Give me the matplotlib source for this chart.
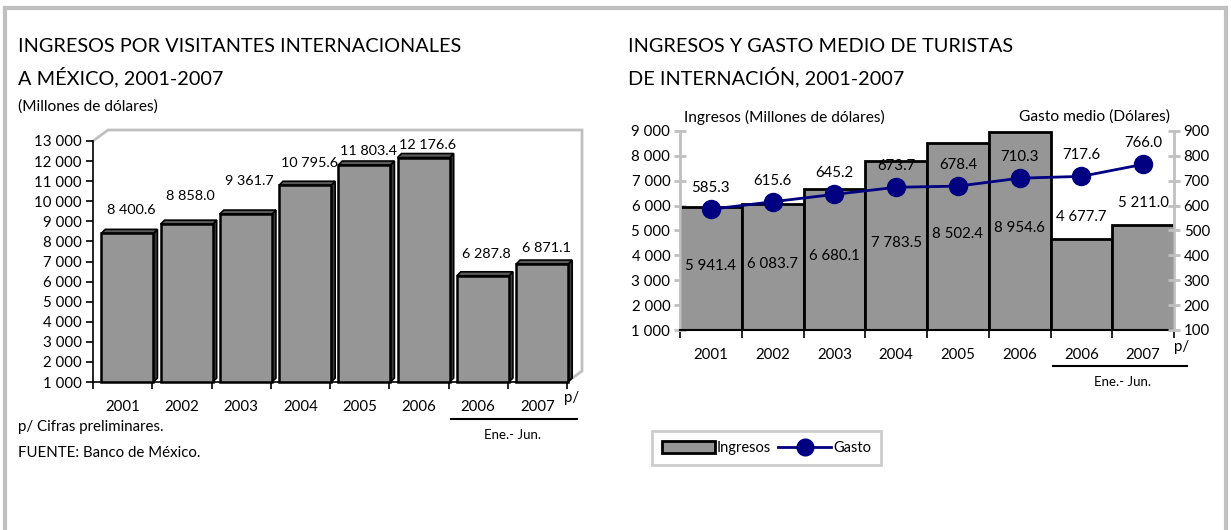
import matplotlib
matplotlib.use("Agg")
import matplotlib.pyplot as plt
from matplotlib.patches import Polygon, Patch
from matplotlib.lines import Line2D

plt.rcParams['font.family'] = ['Lato', 'DejaVu Sans']

# ---------------- data ----------------
years = ["2001", "2002", "2003", "2004", "2005", "2006", "2006", "2007"]
ingresos_visitantes = [8400.6, 8858.0, 9361.7, 10795.6, 11803.4, 12176.6, 6287.8, 6871.1]
ingresos_turistas = [5941.4, 6083.7, 6680.1, 7783.5, 8502.4, 8954.6, 4677.7, 5211.0]
gasto_medio = [585.3, 615.6, 645.2, 673.7, 678.4, 710.3, 717.6, 766.0]
left_yticks = list(range(1000, 13001, 1000))
right_yticks_l = list(range(1000, 9001, 1000))
right_yticks_r = list(range(100, 901, 100))

# label placement (style): pixel gap between left-chart bar tops and their labels
left_label_gap_px = [23, 28, 33, 22, 14, 13, 22, 16]

W, H = 1231, 530
fig = plt.figure(figsize=(W / 100, H / 100), dpi=100)
fig.patch.set_facecolor("white")


def fx(px):
    return px / W


def fy(py):
    return 1 - py / H


def fmt(v, dec=0):
    return f"{v:,.{dec}f}".replace(",", " ")


BAR = "#969696"
GRID = "#c0c0c0"
NAVY = "#000080"
FS = 10.8
TFS = 14.3
PT = 72 / 100  # points per pixel

# outer frame
fig.add_artist(Line2D([fx(5), fx(5)], [fy(560), fy(8)], color=GRID, lw=3))
fig.add_artist(Line2D([fx(5), fx(1226)], [fy(8), fy(8)], color=GRID, lw=3))
fig.add_artist(Line2D([fx(1226), fx(1226)], [fy(8), fy(560)], color=GRID, lw=3))

# ---------------- left chart ----------------
L0, L1, T0, B0 = 93, 567, 141, 382
ax1 = fig.add_axes([fx(L0), fy(B0), fx(L1 - L0), (B0 - T0) / H])
ax1.set_xlim(-0.5, 7.5)
ax1.set_ylim(1000, 13000)
ax1.set_facecolor("none")
for s in ["top", "right"]:
    ax1.spines[s].set_visible(False)
ax1.spines["left"].set_color("black")
ax1.spines["left"].set_linewidth(1.2)
ax1.spines["bottom"].set_color("black")
ax1.spines["bottom"].set_linewidth(1.2)
ax1.set_yticks(left_yticks)
ax1.set_yticklabels([fmt(v) for v in left_yticks], fontsize=FS)
ax1.set_xticks([i - 0.5 for i in range(len(years) + 1)])
ax1.set_xticklabels([])
ax1.tick_params(axis="y", direction="out", length=5, width=1.2, pad=3)
ax1.tick_params(axis="x", direction="out", length=5, width=1.2)

px_x = 8 / (L1 - L0)            # data units per pixel in x
px_y = 12000 / (B0 - T0)        # data units per pixel in y

# back wall of the 3D chart
wdx, wdy = 15 * px_x, 11 * px_y
wall = [(-0.5, 13000), (-0.5 + wdx, 13000 + wdy), (7.5 + wdx, 13000 + wdy),
        (7.5 + wdx, 1000 + wdy), (7.5, 1000)]
ax1.plot([p[0] for p in wall], [p[1] for p in wall], color=GRID, lw=2,
         clip_on=False, zorder=0.5, solid_joinstyle="miter")

# 3D bars
bdx, bdy = 4 * px_x, 4 * px_y
for i, v in enumerate(ingresos_visitantes):
    x0, x1 = i - 0.36, i + 0.52
    side = Polygon([(x1, 1000), (x1 + bdx, 1000 + bdy), (x1 + bdx, v + bdy), (x1, v)],
                   closed=True, facecolor="#3c3c3c", edgecolor="black", lw=1.2,
                   clip_on=False, zorder=2)
    top = Polygon([(x0, v), (x0 + bdx, v + bdy), (x1 + bdx, v + bdy), (x1, v)],
                  closed=True, facecolor="#5a5a5a", edgecolor="black", lw=1.2,
                  clip_on=False, zorder=2)
    ax1.add_patch(side)
    ax1.add_patch(top)
ax1.bar([i + 0.08 for i in range(len(years))],
        [v - 1000 for v in ingresos_visitantes], bottom=1000, width=0.88,
        color=BAR, edgecolor="black", linewidth=1.8, zorder=3, clip_on=False)

for i, v in enumerate(ingresos_visitantes):
    ax1.annotate(fmt(v, 1), (i + 0.08, v), xytext=(4 * PT, left_label_gap_px[i] * PT),
                 textcoords="offset points", ha="center", va="center",
                 fontsize=10.4, annotation_clip=False)

for i, y in enumerate(years):
    ax1.text(i, 1000 - 25 * px_y, y, ha="center", va="center", fontsize=FS)

fig.text(fx(564), fy(398), "p/", fontsize=FS, ha="left", va="center")
fig.add_artist(Line2D([fx(451), fx(577)], [fy(419), fy(419)], color="black", lw=1.5))
fig.text(fx(513), fy(435), "Ene.- Jun.", fontsize=9.5, ha="center", va="center")

fig.text(fx(18), fy(47), "INGRESOS POR VISITANTES INTERNACIONALES", fontsize=TFS,
         ha="left", va="center")
fig.text(fx(18), fy(77), "A MÉXICO, 2001-2007", fontsize=TFS, ha="left", va="center")
fig.text(fx(18), fy(107), "(Millones de dólares)", fontsize=11.2, ha="left", va="center")
fig.text(fx(18), fy(427), "p/ Cifras preliminares.", fontsize=10.8, ha="left", va="center")
fig.text(fx(18), fy(453), "FUENTE: Banco de México.", fontsize=10.8, ha="left", va="center")

# ---------------- right chart ----------------
R0, R1, RT, RB = 680, 1174, 131, 330
ax2 = fig.add_axes([fx(R0), fy(RB), fx(R1 - R0), (RB - RT) / H])
ax2.set_xlim(-0.5, 7.5)
ax2.set_ylim(1000, 9000)
ax2.spines["top"].set_visible(False)
ax2.spines["right"].set_visible(False)
ax2.spines["left"].set_color(GRID)
ax2.spines["left"].set_linewidth(2)
ax2.spines["bottom"].set_color("black")
ax2.spines["bottom"].set_linewidth(1.5)
ax2.set_yticks(right_yticks_l)
ax2.set_yticklabels([fmt(v) for v in right_yticks_l], fontsize=FS)
ax2.tick_params(axis="y", direction="inout", length=8, width=2, color=GRID, pad=3)
ax2.set_xticks([i - 0.5 for i in range(len(years) + 1)])
ax2.set_xticklabels([])
ax2.tick_params(axis="x", direction="out", length=6, width=1.2, color="black")

ax2.bar(range(len(years)), [v - 1000 for v in ingresos_turistas], bottom=1000,
        width=1.0, color=BAR, edgecolor="black", linewidth=2, zorder=2)
for i, v in enumerate(ingresos_turistas):
    if i < 6:
        ax2.annotate(fmt(v, 1), (i, (v + 1000) / 2), xytext=(0, 3 * PT),
                     textcoords="offset points", ha="center", va="center",
                     fontsize=FS, zorder=5)
    else:
        ax2.annotate(fmt(v, 1), (i, v), xytext=(0, 22 * PT), textcoords="offset points",
                     ha="center", va="center", fontsize=FS, zorder=5)

ax3 = ax2.twinx()
ax3.set_ylim(100, 900)
ax3.spines["top"].set_visible(False)
ax3.spines["left"].set_visible(False)
ax3.spines["bottom"].set_visible(False)
ax3.spines["right"].set_color(GRID)
ax3.spines["right"].set_linewidth(2)
ax3.set_yticks(right_yticks_r)
ax3.set_yticklabels([str(v) for v in right_yticks_r], fontsize=FS)
ax3.tick_params(axis="y", direction="inout", length=8, width=2, color=GRID, pad=3)
ax3.plot(range(len(years)), gasto_medio, color=NAVY, lw=2, marker="o",
         markersize=13, zorder=4)
for i, v in enumerate(gasto_medio):
    ax3.annotate(fmt(v, 1), (i, v), xytext=(0, 21 * PT), textcoords="offset points",
                 ha="center", va="center", fontsize=FS)

for i, y in enumerate(years):
    fig.text(fx(R0 + (i + 0.5) * (R1 - R0) / 8), fy(355), y, ha="center",
             va="center", fontsize=FS)
fig.text(fx(1174), fy(347), "p/", fontsize=FS, ha="left", va="center")
fig.add_artist(Line2D([fx(1053), fx(1187)], [fy(366), fy(366)], color="black", lw=1.5))
fig.text(fx(1122), fy(382), "Ene.- Jun.", fontsize=9.5, ha="center", va="center")

fig.text(fx(684), fy(117), "Ingresos (Millones de dólares)", fontsize=11.2,
         ha="left", va="center")
fig.text(fx(1170), fy(117), "Gasto medio (Dólares)", fontsize=11.2,
         ha="right", va="center")
fig.text(fx(628), fy(47), "INGRESOS Y GASTO MEDIO DE TURISTAS", fontsize=TFS,
         ha="left", va="center")
fig.text(fx(628), fy(77), "DE INTERNACIÓN, 2001-2007", fontsize=TFS,
         ha="left", va="center")

handles = [Patch(facecolor=BAR, edgecolor="black", linewidth=2),
           Line2D([], [], color=NAVY, lw=2, marker="o", markersize=12)]
leg = fig.legend(handles, ["Ingresos", "Gasto"], loc="center left",
                 bbox_to_anchor=(fx(652), fy(448)), ncol=2, fontsize=10.5,
                 frameon=True, fancybox=False, handlelength=3.6, handleheight=0.9,
                 handletextpad=0.15, columnspacing=0.5, borderpad=0.7,
                 borderaxespad=0)
leg.get_frame().set_edgecolor(GRID)
leg.get_frame().set_linewidth(2)

fig.savefig("out.png", dpi=100)
